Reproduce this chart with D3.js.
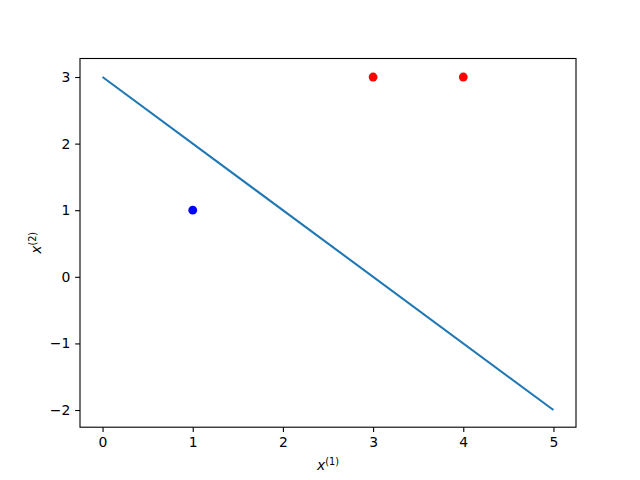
<!DOCTYPE html>
<html><head><meta charset="utf-8">
<script src="https://cdn.jsdelivr.net/npm/d3@7"></script>
<style>body{margin:0;background:#fff}svg{display:block}</style>
</head><body>
<script>
const lineX = [0, 5];
const lineY = [3, -2];
const bluePoints = [[1, 1]];
const redPoints = [[3, 3], [4, 3]];
const xTicks = [0, 1, 2, 3, 4, 5];
const yTicks = [-2, -1, 0, 1, 2, 3];

const W = 640, H = 480;
const L = 80, R = 576, T = 58.5, B = 427.2;
const FS = 13.9;
const svg = d3.select("body").append("svg").attr("width", W).attr("height", H)
  .style("font-family", "DejaVu Sans");
const x = d3.scaleLinear().domain([-0.25, 5.25]).range([L, R]);
const y = d3.scaleLinear().domain([-2.258, 3.278]).range([B, T]);

const line = d3.line().x(d => x(d[0])).y(d => y(d[1]));
svg.append("path").datum(lineX.map((v, i) => [v, lineY[i]]))
  .attr("d", line).attr("fill", "none").attr("stroke", "#1f77b4").attr("stroke-width", 2.08);

svg.selectAll("circle.b").data(bluePoints).enter().append("circle")
  .attr("cx", d => x(d[0])).attr("cy", d => y(d[1])).attr("r", 4.4).attr("fill", "blue");
svg.selectAll("circle.r").data(redPoints).enter().append("circle")
  .attr("cx", d => x(d[0])).attr("cy", d => y(d[1])).attr("r", 4.4).attr("fill", "red");

const xa = svg.append("g").attr("transform", `translate(0,${B})`)
  .call(d3.axisBottom(x).tickValues(xTicks).tickSize(4.86).tickPadding(4.86).tickFormat(d3.format("d")));
const ya = svg.append("g").attr("transform", `translate(${L},0)`)
  .call(d3.axisLeft(y).tickValues(yTicks).tickSize(4.86).tickPadding(4.86).tickFormat(d => d < 0 ? "\u2212" + Math.abs(d) : d));
[xa, ya].forEach(a => {
  a.selectAll("text").attr("font-size", FS).attr("font-family", "DejaVu Sans").attr("fill", "#000");
  a.selectAll("line").attr("stroke", "#000").attr("stroke-width", 1.1);
  a.select(".domain").remove();
});
svg.append("rect").attr("x", L).attr("y", T).attr("width", R - L).attr("height", B - T)
  .attr("fill", "none").attr("stroke", "#000").attr("stroke-width", 1.1);

const xl = svg.append("text").attr("x", (L + R) / 2).attr("y", 470).attr("text-anchor", "middle")
  .attr("font-size", FS);
xl.append("tspan").attr("font-style", "italic").text("x");
xl.append("tspan").attr("font-size", 9.7).attr("dy", -5).text("(1)");

const yl = svg.append("text").attr("transform", `translate(41,${(T + B) / 2}) rotate(-90)`)
  .attr("text-anchor", "middle").attr("font-size", FS);
yl.append("tspan").attr("font-style", "italic").text("x");
yl.append("tspan").attr("font-size", 9.7).attr("dy", -5).text("(2)");
</script>
</body></html>
